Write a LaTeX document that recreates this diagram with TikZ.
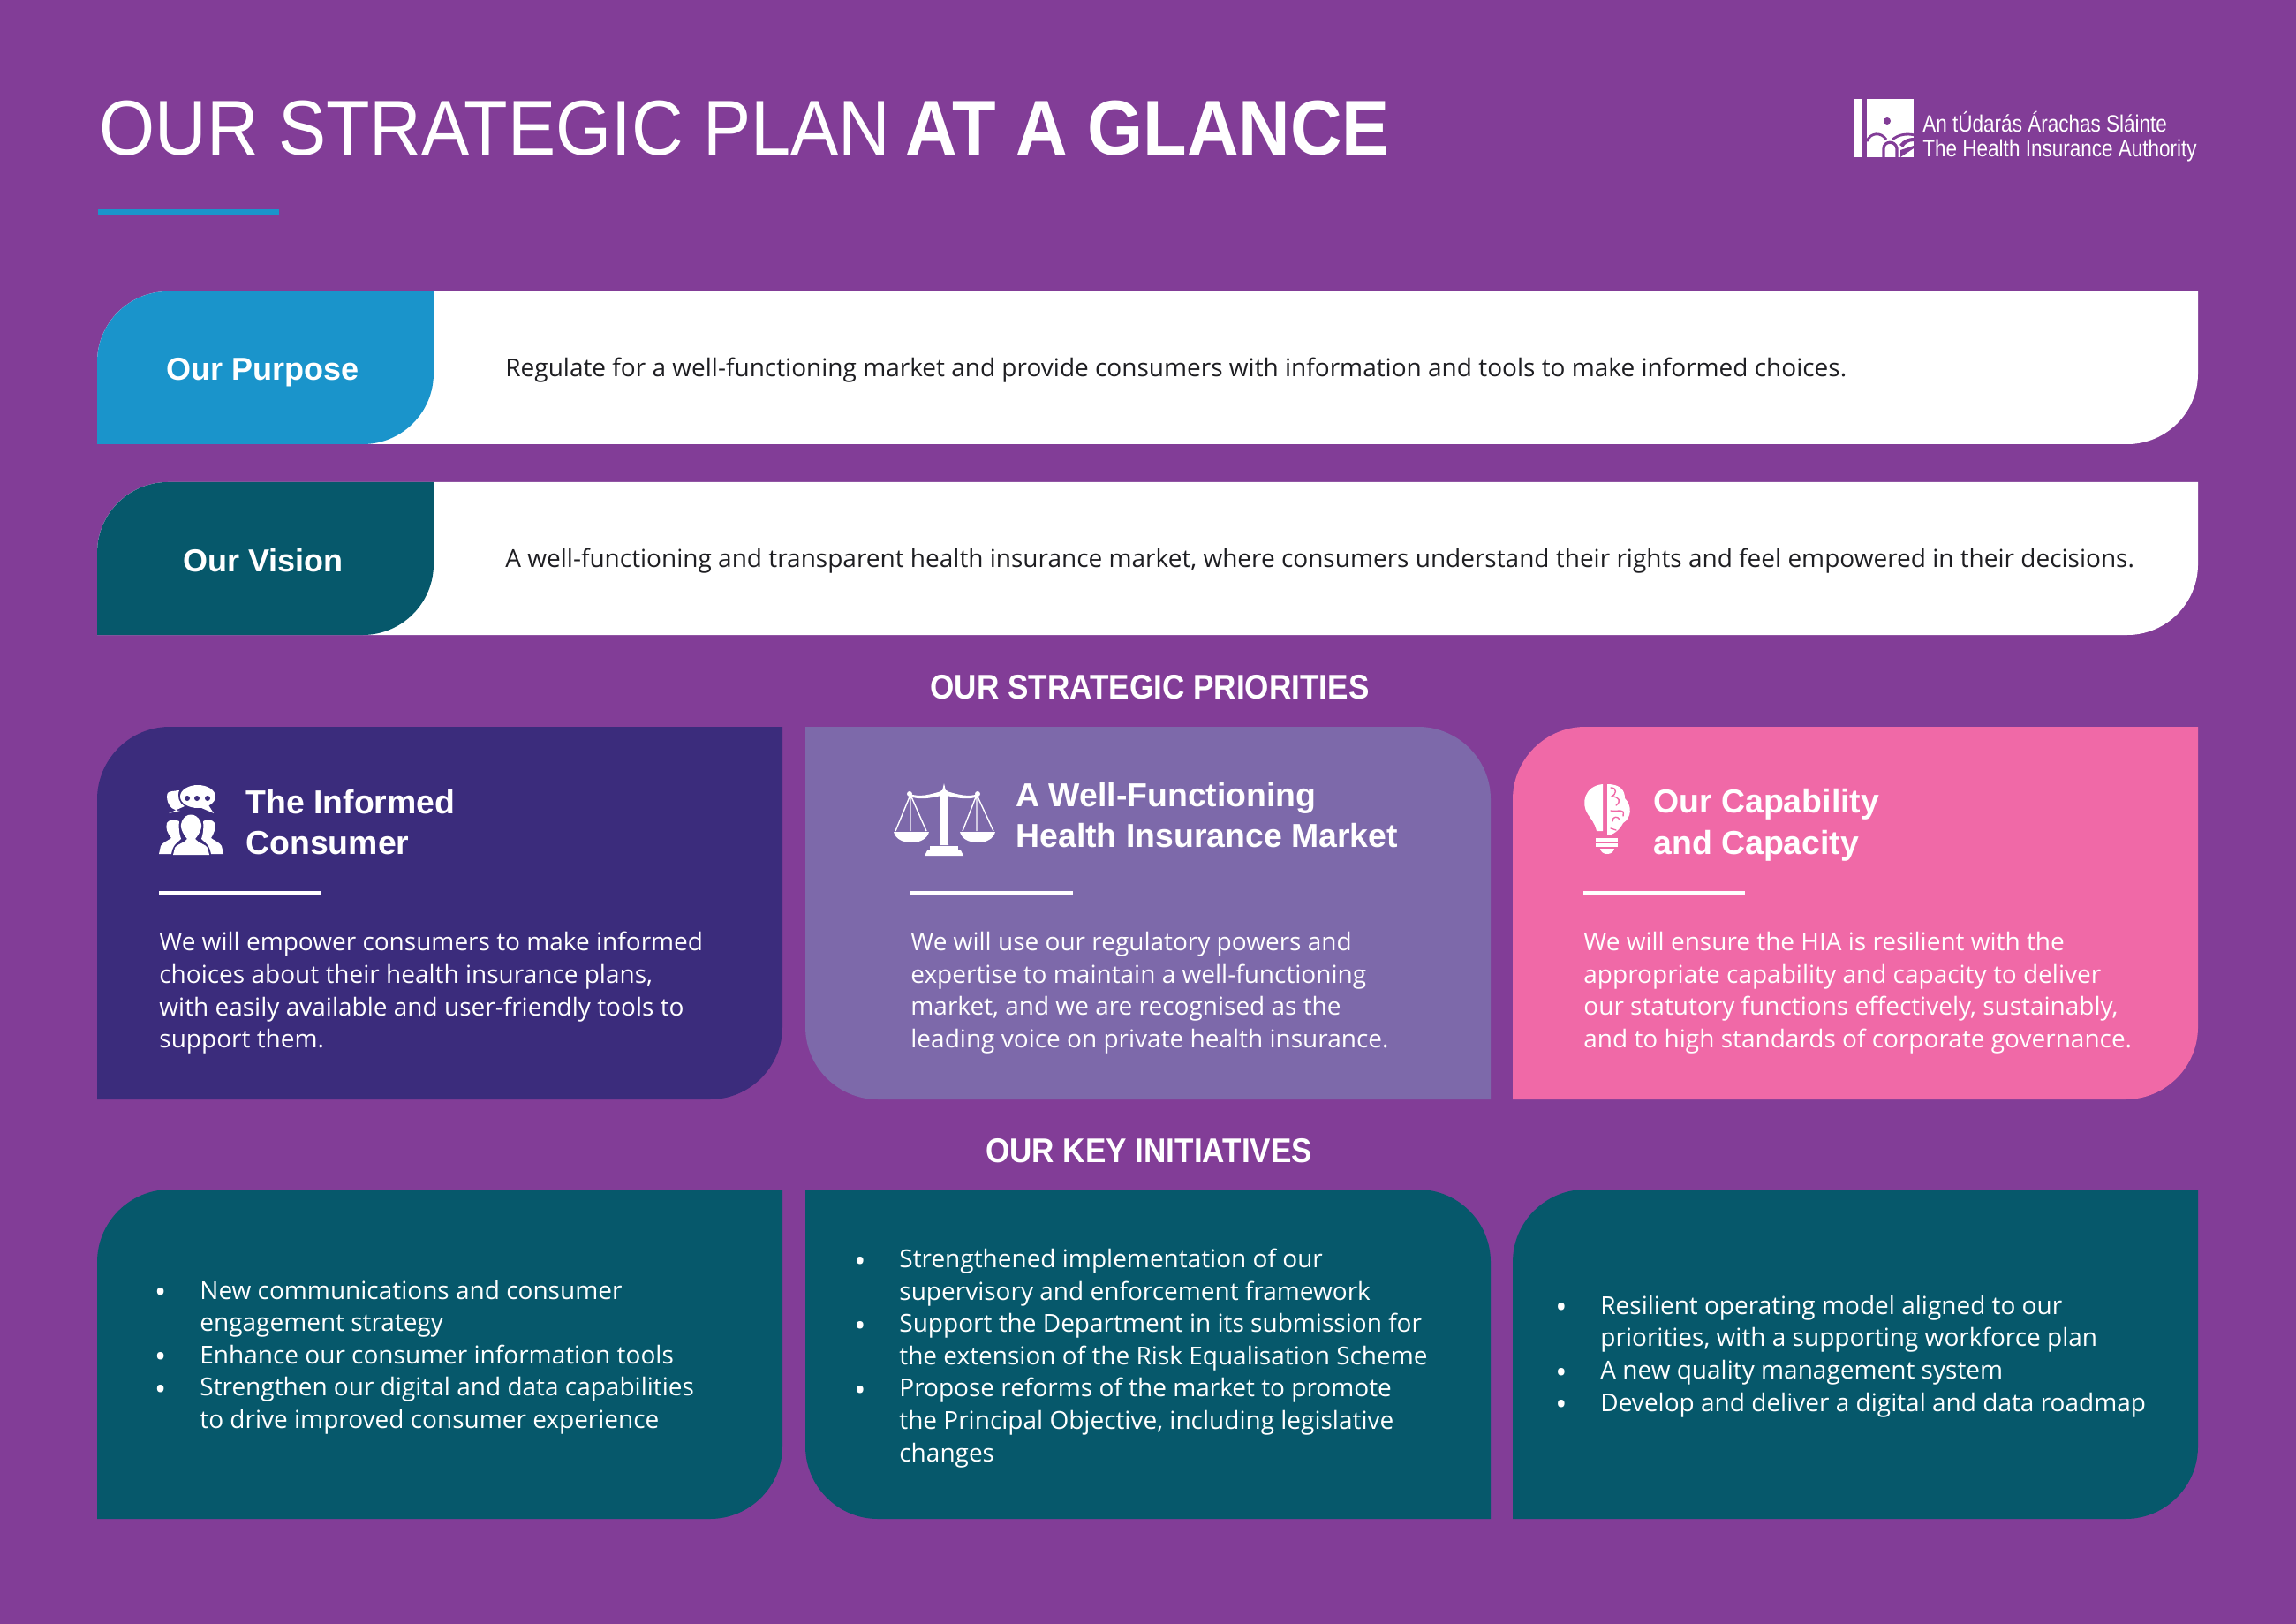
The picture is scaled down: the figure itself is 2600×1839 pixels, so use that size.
\documentclass[tikz,border=0pt]{standalone}
\usepackage{fontspec}
\setmainfont{Liberation Sans}
\newfontfamily\bodyf{Open Sans}
\definecolor{bgp}{HTML}{823D97}
\definecolor{bluec}{HTML}{1A94CB}
\definecolor{tealc}{HTML}{06586B}
\definecolor{indigoc}{HTML}{3B2C7C}
\definecolor{lavc}{HTML}{7D69AA}
\definecolor{pinkc}{HTML}{F069A7}
\definecolor{inkc}{HTML}{1E1E22}
\newcommand{\tlbr}[6]{% x0 y0 x1 y1 r colour: TL and BR rounded
 \fill[#6] (#1,#2+#5) .. controls (#1,#2+0.45*#5) and (#1+0.45*#5,#2) .. (#1+#5,#2) -- (#3,#2) -- (#3,#4-#5) .. controls (#3,#4-0.45*#5) and (#3-0.45*#5,#4) .. (#3-#5,#4) -- (#1,#4) -- cycle;}
\newcommand{\trbl}[6]{% TR and BL rounded
 \fill[#6] (#1,#2) -- (#3-#5,#2) .. controls (#3-0.45*#5,#2) and (#3,#2+0.45*#5) .. (#3,#2+#5) -- (#3,#4) -- (#1+#5,#4) .. controls (#1+0.45*#5,#4) and (#1,#4-0.45*#5) .. (#1,#4-#5) -- cycle;}
\tikzset{
 x=0.5pt,y=-0.5pt,
 head/.style={font=\addfontfeature{FakeStretch=0.905}\fontsize{19.4}{23}\selectfont\bfseries,text=white,anchor=center,inner sep=0},
 tabt/.style={font=\fontsize{18}{22}\selectfont\bfseries,text=white,anchor=base,inner sep=0},
 bandt/.style={font=\bodyf\fontsize{14}{18}\selectfont,text=inkc,anchor=base west,inner sep=0},
 cardh/.style={font=\addfontfeature{FakeStretch=0.995}\fontsize{18.8}{23.4}\selectfont\bfseries,text=white,anchor=west,inner sep=0,align=left},
 cardb/.style={font=\bodyf\fontsize{14}{18.3}\selectfont,text=white,anchor=north west,inner sep=0,align=left},
 rulew/.style={white,line width=2.5pt},
 ico/.style={fill=white,draw=none},
 logot/.style={anchor=base west,inner sep=0,text=white,font=\addfontfeature{FakeStretch=0.84}\fontsize{13.4}{14}\selectfont},
}
\newcommand{\bl}{\makebox[0pt][r]{\raisebox{-2.3pt}{\fontsize{17.5}{18}\selectfont\textbullet}\hspace{19pt}}}
\begin{document}
\begin{tikzpicture}
\useasboundingbox (0,0) rectangle (2600,1839);
\fill[bgp] (0,0) rectangle (2600,1839);
% title
\node[anchor=base west,inner sep=0,text=white] (title) at (112,176) {\addfontfeature{FakeStretch=0.922}\fontsize{44}{50}\selectfont OUR STRATEGIC PLAN\hspace{-2.5pt} \textbf{AT A GLANCE}};
\coordinate (ua) at (111,240); \coordinate (ub) at (316,240);
\draw[bluec,line width=3pt] (ua) -- (ub);
% logo
\fill[white] (2099,112) rectangle (2108,178);
\fill[white] (2114,112) rectangle (2167,178);
\fill[bgp] (2137,137) circle (4);
\draw[bgp,line width=1.4pt] (2114,160) .. controls (2118,150) and (2130,149) .. (2136,158);
\draw[bgp,line width=1.6pt] (2133,179) -- (2133,168) .. controls (2133,160) and (2146,158) .. (2148,168) -- (2148,179);
\draw[bgp,line width=1.4pt] (2143,158) .. controls (2150,152) and (2160,151) .. (2168,153);
\fill[bgp] (2151,164) .. controls (2155,158) and (2162,156) .. (2167,156) -- (2167,160) .. controls (2161,160) and (2157,163) .. (2155,167) -- cycle;
\fill[bgp] (2152,170) -- (2167,165) -- (2167,168) -- (2152,178) -- cycle;
\node[logot] (lg1) at (2177,150) {An tÚdarás Árachas Sláinte};
\node[logot] (lg2) at (2177,178) {The Health Insurance Authority};
% bands
\tlbr{110}{330}{2489}{503}{80}{white}
\tlbr{110}{330}{491}{503}{80}{bluec}
\tlbr{110}{546}{2489}{719}{80}{white}
\tlbr{110}{546}{491}{719}{80}{tealc}
\node[tabt] (purpose) at (298,431) {Our Purpose};
\node[tabt] (vision) at (298,647) {Our Vision};
\node[bandt] (ptext) at (572,427) {Regulate for a well-functioning market and provide consumers with information and tools to make informed choices.};
\node[bandt] (vtext) at (572,643) {A well-functioning and transparent health insurance market, where consumers understand their rights and feel empowered in their decisions.};
% headings
\node[head] (h1) at (1302,778) {OUR STRATEGIC PRIORITIES};
\node[head] (h2) at (1301,1303) {OUR KEY INITIATIVES};
% cards
\tlbr{110}{823}{886}{1245}{82}{indigoc}
\trbl{912}{823}{1688}{1245}{82}{lavc}
\tlbr{1713}{823}{2489}{1245}{82}{pinkc}
\tlbr{110}{1347}{886}{1720}{82}{tealc}
\trbl{912}{1347}{1688}{1720}{82}{tealc}
\tlbr{1713}{1347}{2489}{1720}{82}{tealc}
% card heads
\node[cardh] (c1h) at (278,931) {The Informed\\Consumer};
\node[cardh] (c2h) at (1150,923) {A Well-Functioning\\Health Insurance Market};
\node[cardh] (c3h) at (1872,934) {Our Capability\\and Capacity};
\coordinate (r1a) at (180,1011); \coordinate (r1b) at (363,1011);
\coordinate (r2a) at (1031,1011); \coordinate (r2b) at (1215,1011);
\coordinate (r3a) at (1793,1011); \coordinate (r3b) at (1976,1011);
\draw[rulew] (r1a) -- (r1b);
\draw[rulew] (r2a) -- (r2b);
\draw[rulew] (r3a) -- (r3b);
\node[cardb] (c1b) at (180,1055) {We will empower consumers to make informed\\choices about their health insurance plans,\\with easily available and user-friendly tools to\\support them.};
\node[cardb] (c2b) at (1031,1055) {We will use our regulatory powers and\\expertise to maintain a well-functioning\\market, and we are recognised as the\\leading voice on private health insurance.};
\node[cardb] (c3b) at (1793,1055) {We will ensure the HIA is resilient with the\\appropriate capability and capacity to deliver\\our statutory functions effectively, sustainably,\\and to high standards of corporate governance.};
% initiatives
\node[cardb,anchor=west] (i1) at (226,1537) {\bl New communications and consumer\\engagement strategy\\\bl Enhance our consumer information tools\\\bl Strengthen our digital and data capabilities\\to drive improved consumer experience};
\node[cardb,anchor=west] (i2) at (1018,1538) {\bl Strengthened implementation of our\\supervisory and enforcement framework\\\bl Support the Department in its submission for\\the extension of the Risk Equalisation Scheme\\\bl Propose reforms of the market to promote\\the Principal Objective, including legislative\\changes};
\node[cardb,anchor=west] (i3) at (1812,1536) {\bl Resilient operating model aligned to our\\priorities, with a supporting workforce plan\\\bl A new quality management system\\\bl Develop and deliver a digital and data roadmap};
% people icon
\begin{scope}[shift={(160,860)}]
\path[ico] (44,58) .. controls (28,58) and (28,40) .. (30,38) .. controls (31,36) and (36,36) .. (43,35) .. controls (40,42) and (43,50) .. (49,53) -- (31,61) -- cycle;
\fill[white] (64,42) ellipse [x radius=20,y radius=13];
\fill[white] (75,50) -- (82,61) -- (66,54) -- cycle;
\fill[indigoc] (52,44) circle (3) (63,44) circle (3) (75,44) circle (3);
\fill[white] (20,107) -- (22,98) .. controls (24,94) and (30,92) .. (34,89) .. controls (30,84) and (27,78) .. (29,72) .. controls (31,68) and (38,67) .. (43,70) .. controls (42,78) and (43,84) .. (45,90) .. controls (40,95) and (36,96) .. (34,107) -- cycle;
\fill[white] (93,107) -- (91,98) .. controls (89,94) and (83,92) .. (79,89) .. controls (82,84) and (85,78) .. (83,72) .. controls (81,68) and (74,67) .. (70,70) .. controls (71,78) and (70,84) .. (68,90) .. controls (73,95) and (77,96) .. (79,107) -- cycle;
\fill[white] (36,108) -- (38,100) .. controls (40,96) and (48,95) .. (52,90) .. controls (46,83) and (43,75) .. (46,70) .. controls (50,60) and (62,60) .. (67,70) .. controls (70,75) and (67,83) .. (61,90) .. controls (65,95) and (73,96) .. (75,100) -- (77,108) -- cycle;
\end{scope}
% scales icon
\begin{scope}[shift={(1000,870)}]
\fill[white] (66,30) -- (69,17) -- (72,30) -- cycle;
\fill[white] (69,29) circle (5);
\fill[white] (65,30) -- (73,30) -- (74,87) -- (64,87) -- cycle;
\fill[white] (53,88) rectangle (85,92);
\fill[white] (50,93) -- (88,93) -- (91,99) -- (47,99) -- cycle;
\fill[white] (30,29) .. controls (42,33) and (52,30) .. (66,26) -- (66,31) .. controls (52,34) and (42,36) .. (30,32) -- cycle;
\fill[white] (108,29) .. controls (96,33) and (86,30) .. (72,26) -- (72,31) .. controls (86,34) and (96,36) .. (108,32) -- cycle;
\fill[white] (30,29) circle (3) (107,29) circle (3);
\draw[white,line width=0.7pt] (14,71) -- (31,30) -- (49,71) (31,30) -- (31,71);
\draw[white,line width=0.7pt] (90,71) -- (106,30) -- (125,71) (106,30) -- (106,71);
\fill[white] (12,72) -- (52,72) .. controls (50,80) and (42,84) .. (32,84) .. controls (22,84) and (14,80) .. (12,72) -- cycle;
\fill[white] (87,72) -- (127,72) .. controls (125,80) and (117,84) .. (107,84) .. controls (97,84) and (89,80) .. (87,72) -- cycle;
\end{scope}
% brain bulb icon
\begin{scope}[shift={(1770,870)}]
\fill[white] (45,18) -- (45,71) -- (38,71) .. controls (36,62) and (32,58) .. (28,52) .. controls (20,40) and (24,20) .. (45,18) -- cycle;
\fill[white] (50,18) .. controls (66,18) and (70,26) .. (70,34) .. controls (78,42) and (78,56) .. (68,62) .. controls (64,70) and (56,76) .. (50,76) -- cycle;
\draw[pinkc,line width=0.7pt,line cap=round] (54,22) .. controls (62,22) and (60,30) .. (55,32) .. controls (64,32) and (66,38) .. (60,42) (54,48) .. controls (62,50) and (70,44) .. (68,54) (56,60) .. controls (56,54) and (62,54) .. (64,58) (54,68) -- (60,70);
\fill[white] (37,79) rectangle (62,83);
\fill[white] (37,85) rectangle (62,89);
\fill[white] (42,91) -- (58,91) .. controls (57,95) and (54,97) .. (50,97) .. controls (46,97) and (43,95) .. (42,91) -- cycle;
\end{scope}
\end{tikzpicture}
\end{document}
